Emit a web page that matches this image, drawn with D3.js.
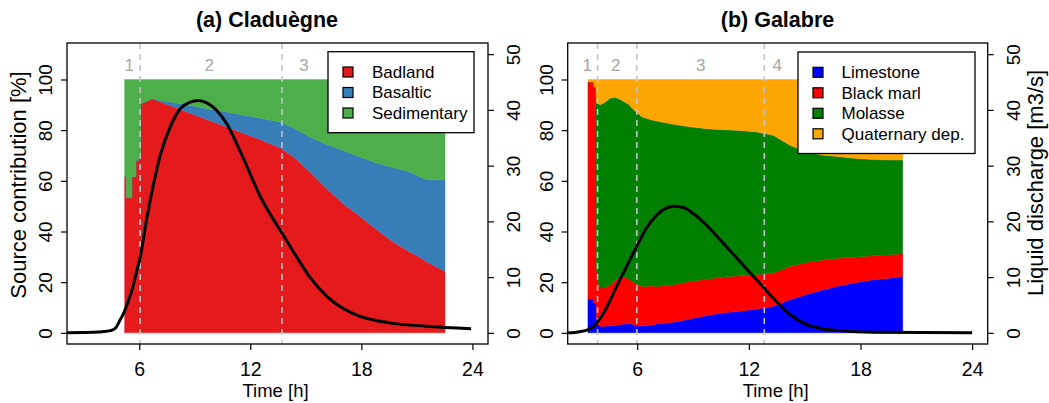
<!DOCTYPE html>
<html><head><meta charset="utf-8">
<script src="https://cdn.jsdelivr.net/npm/d3@7"></script>
<style>
body{margin:0;background:#fff}
text{font-family:"Liberation Sans",Arial,Helvetica,sans-serif}
</style>
</head><body>
<svg id="chart" width="1049" height="403"></svg>
<script>
// ---------------- DATA ----------------
// (a) Claduègne — source contributions [%]
const timeA = [5.21,5.30,5.30,5.60,5.60,5.82,5.82,5.96,5.96,6.07,6.07,6.40,6.68,7.13,8.03,8.93,9.83,10.73,11.62,12.52,13.60,14.32,15.22,16.12,17.00,17.90,18.80,19.70,20.60,21.24,21.50,22.52];
const badland = [61.6,61.6,53.3,53.3,61.6,61.6,68.1,68.1,70.8,70.8,90.4,91.3,92.4,91.2,88.7,86.2,83.7,81.2,78.8,76.3,73.1,69.5,63.6,57.0,51.1,46.1,40.9,36.0,32.0,29.5,28.2,24.2];
const basaltic = [0,0,0,0,0,0,0,0,0,0,0,0,0,0.6,2.0,3.3,4.6,6.0,7.2,8.5,10.1,11.5,13.7,17.4,21.0,23.4,26.2,29.3,31.6,31.8,32.3,36.1];
const sedimentary = [38.4,38.4,46.7,46.7,38.4,38.4,31.9,31.9,29.2,29.2,9.6,8.7,7.6,8.2,9.3,10.5,11.7,12.8,14.0,15.2,16.8,19.0,22.7,25.6,27.9,30.5,32.9,34.7,36.4,38.7,39.5,39.7];
// (a) liquid discharge [m3/s]
const qTimeA = [2.1,3.0,3.54,4.0,4.44,4.71,4.98,5.21,5.34,5.61,5.88,6.06,6.42,6.78,7.13,7.67,8.21,8.75,9.2,9.65,10.19,10.73,11.26,11.8,12.52,13.24,13.71,14.32,15.22,16.12,17.0,17.9,18.8,19.7,21.5,23.93];
const qA = [0,0.05,0.1,0.2,0.4,0.8,2.4,3.9,5.1,7.7,11.3,13.7,20.8,26.8,31.8,36.9,40.2,41.4,41.7,41.25,39.9,37.5,34.0,30.0,24.6,20.4,17.9,14.6,10.0,6.6,4.4,3.0,2.2,1.7,1.2,0.75];
// (b) Galabre — source contributions [%]
const timeB = [3.35,3.66,3.66,3.78,3.80,3.90,4.01,4.28,4.55,4.82,5.09,5.35,5.54,5.72,5.90,6.07,6.25,6.79,7.04,7.94,8.83,9.73,10.62,11.52,12.42,13.31,14.21,15.10,16.00,16.90,17.79,18.69,19.58,20.27];
const limestone = [13.4,13.4,11.9,11.9,6.5,3.3,2.6,2.6,2.8,3.0,3.3,3.5,3.7,3.5,2.9,2.6,2.8,3.1,3.5,4.2,5.5,6.8,7.9,8.5,9.4,10.5,13.1,15.1,17.0,18.6,19.9,21.0,21.6,22.3];
const blackMarl = [85.6,85.6,85.1,85.1,19.5,16.7,15.1,15.1,16.1,17.8,18.8,18.3,17.7,16.8,16.6,16.3,15.5,15.4,14.8,14.8,14.8,14.4,14.1,14.0,13.5,13.1,13.1,12.7,11.8,10.9,10.0,9.4,9.2,8.9];
const molasse = [0,0,0,0,65.1,70.4,72.3,73.3,73.7,72.2,70.0,69.2,68.8,68.4,68.0,67.6,66.9,65.5,65.3,63.3,61.0,59.4,58.2,57.4,56.4,54.4,47.8,43.6,41.3,40.0,38.9,38.0,37.4,37.0];
const quaternary = [1.0,1.0,3.0,3.0,8.9,9.6,10.0,9.0,7.4,7.0,7.9,9.0,9.8,11.3,12.5,13.5,14.8,16.0,16.4,17.7,18.7,19.4,19.8,20.1,20.7,22.0,26.0,28.6,29.9,30.5,31.2,31.6,31.8,31.8];
// (b) liquid discharge [m3/s]
const qTimeB = [2.29,2.92,3.37,3.63,3.9,4.35,4.89,5.43,5.97,6.5,7.04,7.58,7.94,8.48,9.01,9.73,10.62,11.52,12.42,12.83,13.31,14.21,15.1,16.0,16.9,18.69,24.0];
const qB = [0,0.2,0.6,1.1,2.1,4.5,8.3,11.9,15.5,18.8,21.1,22.4,22.7,22.5,21.4,19.3,16.1,12.8,9.5,8.0,6.2,3.3,1.5,0.7,0.4,0.1,0];

// period boundaries and labels
const periodLinesA = [6.05, 13.71];
const periodLabelsA = ["1","2","3"];
const periodLabelPosA = [5.46, 9.78, 14.9];
const periodLinesB = [3.87, 5.98, 12.83];
const periodLabelsB = ["1","2","3","4"];
const periodLabelPosB = [3.31, 4.85, 9.41, 13.53];

const xTicks = [6,12,18,24];
const pctTicks = [0,20,40,60,80,100];
const qTicks = [0,10,20,30,40,50];

const keysA = ["Badland","Basaltic","Sedimentary"];
const colorsA = ["#E41A1C","#377EB8","#4DAF4A"];
const keysB = ["Limestone","Black marl","Molasse","Quaternary dep."];
const colorsB = ["#0000FF","#FF0000","#008000","#FFA500"];

// ---------------- DRAW ----------------
const svg = d3.select("#chart");
const expand = (lo, hi) => { const d = (hi - lo) * 0.04; return [lo - d, hi + d]; };

function panel(cfg) {
  const {x0, x1, y0, y1} = cfg;
  const g = svg.append("g");
  const x = d3.scaleLinear().domain(expand(cfg.xlim[0], cfg.xlim[1])).range([x0, x1]);
  const y = d3.scaleLinear().domain(expand(0, 110)).range([y1, y0]);
  const yq = d3.scaleLinear().domain(expand(0, 50)).range([y1, y0]);

  const clipId = "clip" + cfg.id;
  svg.append("clipPath").attr("id", clipId).append("rect")
    .attr("x", x0).attr("y", y0).attr("width", x1 - x0).attr("height", y1 - y0);

  // stacked areas
  const rows = cfg.time.map((t, i) => {
    const r = {t};
    cfg.keys.forEach((k, j) => r[k] = cfg.series[j][i]);
    return r;
  });
  const stack = d3.stack().keys(cfg.keys)(rows);
  const area = d3.area().x(d => x(d.data.t)).y0(d => y(d[0])).y1(d => y(d[1]));
  g.append("g").selectAll("path").data(stack).join("path")
    .attr("d", area).attr("fill", (d, i) => cfg.colors[i])
    .attr("stroke", (d, i) => cfg.colors[i]).attr("stroke-width", 0.4);

  // period dashed lines
  g.append("g").selectAll("line").data(cfg.lines).join("line")
    .attr("x1", d => x(d)).attr("x2", d => x(d)).attr("y1", y0).attr("y2", y1 + 1)
    .attr("stroke", "#c4c4c4").attr("stroke-width", 1.6).attr("stroke-dasharray", "6,5");
  g.append("g").selectAll("text").data(cfg.labels).join("text")
    .attr("x", (d, i) => x(cfg.labelPos[i])).attr("y", y(105.6)).attr("dy", "0.35em")
    .attr("text-anchor", "middle").attr("font-size", 17).attr("fill", "#a6a6a6").text(d => d);

  // discharge line
  const line = d3.line().curve(d3.curveMonotoneX).x((d, i) => x(cfg.qTime[i])).y(d => yq(d));
  g.append("path").datum(cfg.q).attr("clip-path", `url(#${clipId})`)
    .attr("d", line).attr("fill", "none").attr("stroke", "#000").attr("stroke-width", 3)
    .attr("stroke-linejoin", "round");

  // frame
  g.append("rect").attr("x", x0).attr("y", y0).attr("width", x1 - x0).attr("height", y1 - y0)
    .attr("fill", "none").attr("stroke", "#000").attr("stroke-width", 1.3);

  // axes
  const ax = g.append("g").attr("transform", `translate(0,${y1})`)
    .call(d3.axisBottom(x).tickValues(xTicks).tickSize(6).tickPadding(6).tickFormat(d3.format("d")));
  ax.select(".domain").remove();
  ax.selectAll("line").attr("stroke", "#000").attr("stroke-width", 1.2);
  ax.selectAll("text").attr("font-size", 19.5).attr("fill", "#000").attr("y", 18).attr("dy", "0.71em");

  const ayl = g.append("g").attr("transform", `translate(${x0},0)`)
    .call(d3.axisLeft(y).tickValues(pctTicks).tickSize(6));
  ayl.select(".domain").remove();
  ayl.selectAll("line").attr("stroke", "#000").attr("stroke-width", 1.2);
  ayl.selectAll("text").attr("font-size", 19).attr("fill", "#000")
    .attr("x", null).attr("text-anchor", "middle").attr("dy", "0.35em")
    .attr("transform", "translate(-21.5,0) rotate(-90)");

  const ayr = g.append("g").attr("transform", `translate(${x1},0)`)
    .call(d3.axisRight(yq).tickValues(qTicks).tickSize(6));
  ayr.select(".domain").remove();
  ayr.selectAll("line").attr("stroke", "#000").attr("stroke-width", 1.2);
  ayr.selectAll("text").attr("font-size", 19).attr("fill", "#000")
    .attr("x", null).attr("text-anchor", "middle").attr("dy", "0.35em")
    .attr("transform", "translate(25.5,0) rotate(-90)");

  // x label
  g.append("text").attr("x", (x0 + x1) / 2 - 2).attr("y", 397).attr("text-anchor", "middle")
    .attr("font-size", 18.5).text("Time [h]");
  // title
  g.append("text").attr("x", cfg.titleX).attr("y", 27).attr("text-anchor", "middle")
    .attr("font-size", 21.5).attr("font-weight", "bold").text(cfg.title);

  // legend
  const L = cfg.legend;
  const lg = g.append("g");
  lg.append("rect").attr("x", L.x).attr("y", L.y).attr("width", L.w).attr("height", L.h)
    .attr("fill", "#fff").attr("stroke", "#000").attr("stroke-width", 1.3);
  cfg.keys.forEach((k, i) => {
    const cy = L.y + 20.3 + i * 20.5;
    lg.append("rect").attr("x", L.sx - 5).attr("y", cy - 5).attr("width", 10).attr("height", 10)
      .attr("fill", cfg.colors[i]).attr("stroke", "#000").attr("stroke-width", 1.2);
    lg.append("text").attr("x", L.tx).attr("y", cy).attr("dy", "0.35em")
      .attr("font-size", 17).text(k);
  });
}

panel({
  id: "A", x0: 67, x1: 488, y0: 43, y1: 344, xlim: [2.94, 24],
  time: timeA, series: [badland, basaltic, sedimentary], keys: keysA, colors: colorsA,
  lines: periodLinesA, labels: periodLabelsA, labelPos: periodLabelPosA,
  qTime: qTimeA, q: qA, title: "(a) Claduègne", titleX: 267,
  legend: {x: 328, y: 51.7, w: 146, h: 81, sx: 348, tx: 372}
});
panel({
  id: "B", x0: 567.7, x1: 987.7, y0: 43, y1: 344, xlim: [3.1, 24],
  time: timeB, series: [limestone, blackMarl, molasse, quaternary], keys: keysB, colors: colorsB,
  lines: periodLinesB, labels: periodLabelsB, labelPos: periodLabelPosB,
  qTime: qTimeB, q: qB, title: "(b) Galabre", titleX: 777.5,
  legend: {x: 798, y: 52, w: 177, h: 101.5, sx: 818, tx: 841.5}
});

// y-axis titles
svg.append("text").attr("transform", "translate(18,185) rotate(-90)").attr("dy", "0.35em")
  .attr("text-anchor", "middle").attr("font-size", 22).text("Source contribution [%]");
svg.append("text").attr("transform", "translate(1035,183) rotate(-90)").attr("dy", "0.35em")
  .attr("text-anchor", "middle").attr("font-size", 22).text("Liquid discharge [m3/s]");
</script>
</body></html>
